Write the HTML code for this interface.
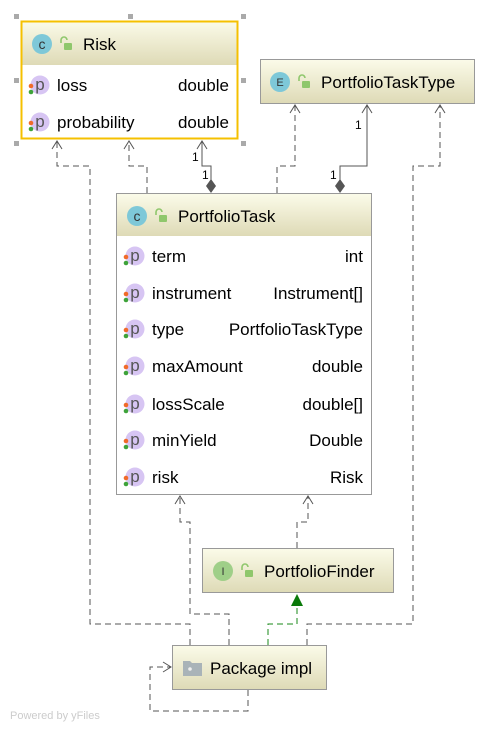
<!DOCTYPE html>
<html><head><style>
body{margin:0;width:496px;height:731px;background:#fff;overflow:hidden}
svg text{font-family:"Liberation Sans",sans-serif}
</style></head><body>
<svg width="496" height="731" viewBox="0 0 496 731" xmlns="http://www.w3.org/2000/svg">
<defs>
<linearGradient id="hg" x1="0" y1="0" x2="0" y2="1">
<stop offset="0" stop-color="#fbfbe9"/><stop offset="1" stop-color="#dedab6"/>
</linearGradient>
<g id="pi">
<circle cx="0" cy="0" r="9.5" fill="#d7c5f3"/>
<text x="0" y="5" font-size="17" text-anchor="middle" fill="#555">p</text>
<circle cx="-9" cy="1" r="2.3" fill="#f06a2a"/>
<circle cx="-9" cy="7" r="2.3" fill="#3ea33a"/>
</g>
<g id="lock"><path d="M-5 -1v-3a3 3 0 0 1 6 0" fill="none" stroke="#8fc76c" stroke-width="1.6"/><rect x="-2" y="-1" width="8" height="7" rx="1" fill="#8fc76c"/></g>
</defs>

<g fill="none" stroke="#555" stroke-width="1" stroke-dasharray="6,4">
<polyline points="190,645 190,624 90,624 90,166 57,166 57,141"/>
<polyline points="147,193 147,166 129,166 129,141"/>
<polyline points="277,193 277,166 295,166 295,105"/>
<polyline points="307,645 307,624 413,624 413,166 440,166 440,105"/>
<polyline points="229,645 229,614 190,614 190,522 180,522 180,496"/>
<polyline points="297,548 297,522 308,522 308,496"/>
<polyline points="248,690 248,711 150,711 150,667 171,667"/>
</g>
<g fill="none" stroke="#555" stroke-width="1">
<polyline points="52,149 57,141 62,149"/>
<polyline points="124,149 129,141 134,149"/>
<polyline points="290,113 295,105 300,113"/>
<polyline points="435,113 440,105 445,113"/>
<polyline points="175,504 180,496 185,504"/>
<polyline points="303,504 308,496 313,504"/>
<polyline points="163,662 171,667 163,672"/>
<polyline points="211,180 211,166 202,166 202,141"/>
<polyline points="197,149 202,141 207,149"/>
<polyline points="340,180 340,166 367,166 367,105"/>
<polyline points="362,113 367,105 372,113"/>
</g>
<path d="M211,179 l5,7 l-5,7 l-5,-7z" fill="#555"/>
<path d="M340,179 l5,7 l-5,7 l-5,-7z" fill="#555"/>
<g font-size="12" fill="#000">
<text x="192" y="161">1</text><text x="202" y="179">1</text>
<text x="355" y="129">1</text><text x="330" y="179">1</text>
</g>
<polyline points="268,645 268,624 297,624 297,605" fill="none" stroke="#1a8a1a" stroke-dasharray="6,4"/>
<path d="M291,606 L297,594 L303,606z" fill="#0a7a0a"/>

<g fill="#aaa">
<rect x="14" y="14" width="5" height="5"/><rect x="128" y="14" width="5" height="5"/><rect x="241" y="14" width="5" height="5"/>
<rect x="14" y="78" width="5" height="5"/><rect x="241" y="78" width="5" height="5"/>
<rect x="14" y="141" width="5" height="5"/><rect x="241" y="141" width="5" height="5"/>
</g>
<rect x="21" y="21" width="217" height="118" fill="#fff"/>
<rect x="21" y="21" width="217" height="44" fill="url(#hg)"/>
<rect x="21.5" y="21.5" width="216" height="117" fill="none" stroke="#f5c000" stroke-width="2"/>
<circle cx="42" cy="44" r="10" fill="#7ec8d8"/><text x="42" y="49" font-size="14" text-anchor="middle" fill="#333">c</text>
<use href="#lock" x="66" y="44"/>
<text x="83" y="50" font-size="17">Risk</text>
<use href="#pi" x="40" y="85"/><text x="57" y="91" font-size="17">loss</text><text x="229" y="91" font-size="17" text-anchor="end">double</text>
<use href="#pi" x="40" y="122"/><text x="57" y="128" font-size="17">probability</text><text x="229" y="128" font-size="17" text-anchor="end">double</text>

<rect x="260.5" y="59.5" width="214" height="44" fill="url(#hg)" stroke="#999"/>
<circle cx="280" cy="82" r="10" fill="#7ec8d8"/><text x="280" y="86" font-size="11" text-anchor="middle" fill="#333">E</text>
<use href="#lock" x="304" y="82"/>
<text x="321" y="88" font-size="17">PortfolioTaskType</text>

<rect x="116.5" y="193.5" width="255" height="301" fill="#fff" stroke="#999"/>
<rect x="117" y="194" width="254" height="42" fill="url(#hg)"/>
<circle cx="137" cy="216" r="10" fill="#7ec8d8"/><text x="137" y="221" font-size="14" text-anchor="middle" fill="#333">c</text>
<use href="#lock" x="161" y="216"/>
<text x="178" y="222" font-size="17">PortfolioTask</text>
<g font-size="17">
<use href="#pi" x="135" y="256"/><text x="152" y="262">term</text><text x="363" y="262" text-anchor="end">int</text>
<use href="#pi" x="135" y="293"/><text x="152" y="299">instrument</text><text x="363" y="299" text-anchor="end">Instrument[]</text>
<use href="#pi" x="135" y="329"/><text x="152" y="335">type</text><text x="363" y="335" text-anchor="end">PortfolioTaskType</text>
<use href="#pi" x="135" y="366"/><text x="152" y="372">maxAmount</text><text x="363" y="372" text-anchor="end">double</text>
<use href="#pi" x="135" y="404"/><text x="152" y="410">lossScale</text><text x="363" y="410" text-anchor="end">double[]</text>
<use href="#pi" x="135" y="440"/><text x="152" y="446">minYield</text><text x="363" y="446" text-anchor="end">Double</text>
<use href="#pi" x="135" y="477"/><text x="152" y="483">risk</text><text x="363" y="483" text-anchor="end">Risk</text>
</g>

<rect x="202.5" y="548.5" width="191" height="44" fill="url(#hg)" stroke="#999"/>
<circle cx="223" cy="571" r="10" fill="#9fcf88"/><text x="223" y="575" font-size="11" text-anchor="middle" fill="#333">I</text>
<use href="#lock" x="247" y="571"/>
<text x="264" y="577" font-size="17">PortfolioFinder</text>

<rect x="172.5" y="645.5" width="154" height="44" fill="url(#hg)" stroke="#999"/>
<path d="M183,661 h7 l2,2 h10 v13 h-19z" fill="#a9b3b8"/><circle cx="190" cy="669" r="1.8" fill="#eee"/>
<text x="210" y="674" font-size="17">Package impl</text>

<text x="10" y="719" font-size="11" fill="#ccc">Powered by yFiles</text>
</svg>
</body></html>
